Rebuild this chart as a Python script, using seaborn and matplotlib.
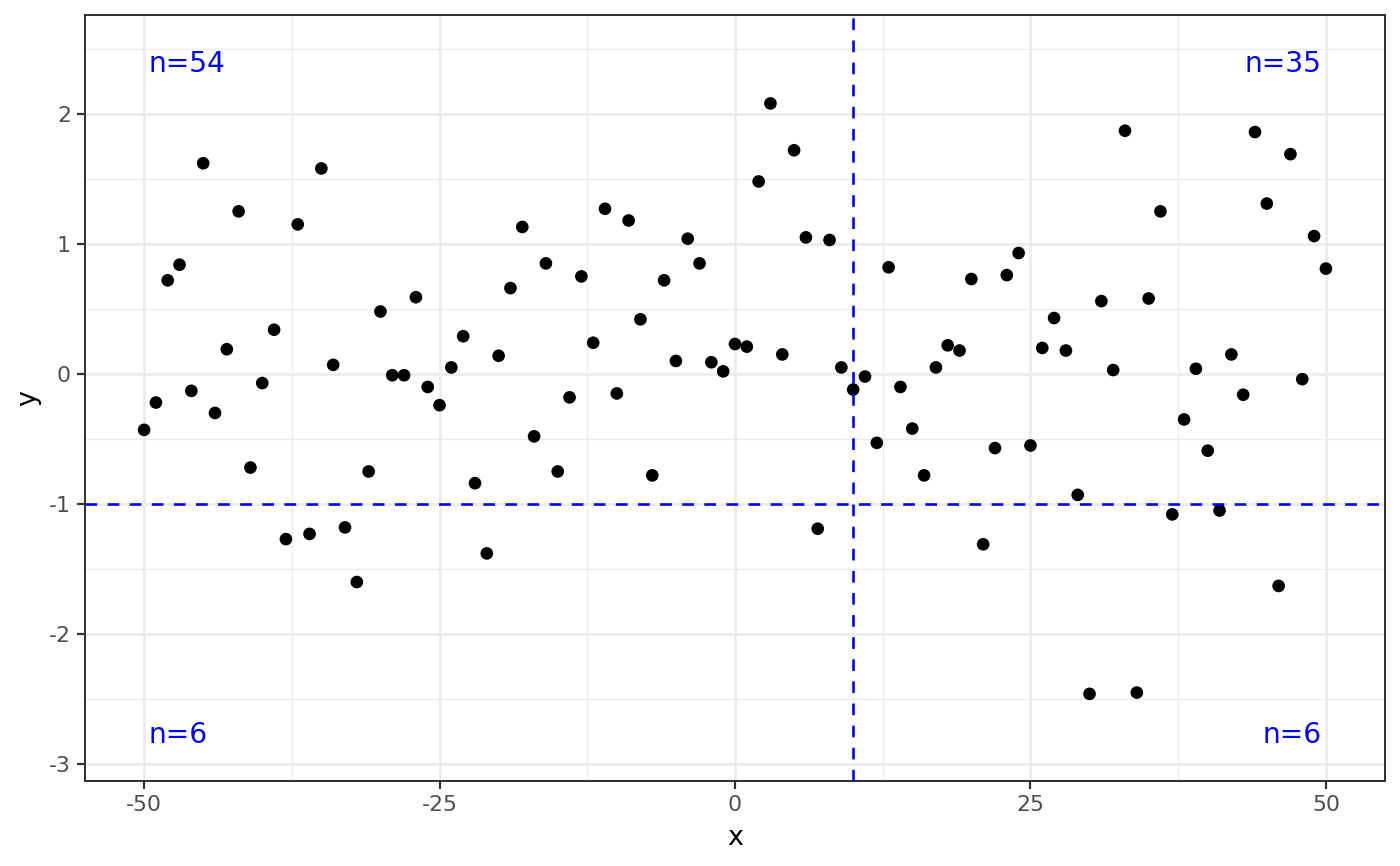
import numpy as np
import pandas as pd
import matplotlib
matplotlib.use("Agg")
import matplotlib.pyplot as plt
import seaborn as sns
from matplotlib.ticker import MultipleLocator

# data
x_vals = list(range(-50, 51))
y_vals = [-0.43, -0.22, 0.72, 0.84, -0.13, 1.62, -0.30, 0.19, 1.25, -0.72,
          -0.07, 0.34, -1.27, 1.15, -1.23, 1.58, 0.07, -1.18, -1.60, -0.75,
          0.48, -0.01, -0.01, 0.59, -0.10, -0.24, 0.05, 0.29, -0.84, -1.38,
          0.14, 0.66, 1.13, -0.48, 0.85, -0.75, -0.18, 0.75, 0.24, 1.27,
          -0.15, 1.18, 0.42, -0.78, 0.72, 0.10, 1.04, 0.85, 0.09, 0.02,
          0.23, 0.21, 1.48, 2.08, 0.15, 1.72, 1.05, -1.19, 1.03, 0.05,
          -0.12, -0.02, -0.53, 0.82, -0.10, -0.42, -0.78, 0.05, 0.22, 0.18,
          0.73, -1.31, -0.57, 0.76, 0.93, -0.55, 0.20, 0.43, 0.18, -0.93,
          -2.46, 0.56, 0.03, 1.87, -2.45, 0.58, 1.25, -1.08, -0.35, 0.04,
          -0.59, -1.05, 0.15, -0.16, 1.86, 1.31, -1.63, 1.69, -0.04, 1.06,
          0.81]
x_cut = 10
y_cut = -1

df = pd.DataFrame({"x": x_vals, "y": y_vals})

# quadrant counts
left = df["x"] < x_cut
top = df["y"] >= y_cut
n_tl = int((left & top).sum())
n_tr = int((~left & top).sum())
n_bl = int((left & ~top).sum())
n_br = int((~left & ~top).sum())

sns.set_theme(style="white")
plt.rcParams["font.family"] = ["DejaVu Sans"]
plt.rcParams["axes.unicode_minus"] = False

fig, ax = plt.subplots(figsize=(1400 / 144, 866 / 144), dpi=144)
fig.subplots_adjust(left=85 / 1400, right=1385 / 1400, top=1 - 15 / 866, bottom=1 - 781 / 866)

sns.scatterplot(data=df, x="x", y="y", color="black", s=40, edgecolor="none", ax=ax, zorder=3)

ax.axvline(x_cut, color="blue", lw=1.3, linestyle=(0, (4.5, 4)), zorder=4)
ax.axhline(y_cut, color="blue", lw=1.3, linestyle=(0, (4.5, 4)), zorder=4)

ax.set_xlim(-55, 55)
ax.set_ylim(-3.13, 2.76)

ax.text(-49.6, 2.38, f"n={n_tl}", color="blue", fontsize=14, ha="left", va="center")
ax.text(49.6, 2.38, f"n={n_tr}", color="blue", fontsize=14, ha="right", va="center")
ax.text(-49.6, -2.78, f"n={n_bl}", color="blue", fontsize=14, ha="left", va="center")
ax.text(49.6, -2.78, f"n={n_br}", color="blue", fontsize=14, ha="right", va="center")

# ggplot theme_bw look
ax.xaxis.set_major_locator(MultipleLocator(25))
ax.xaxis.set_minor_locator(MultipleLocator(12.5))
ax.yaxis.set_major_locator(MultipleLocator(1))
ax.yaxis.set_minor_locator(MultipleLocator(0.5))
ax.grid(which="major", color="#EBEBEB", lw=1.3)
ax.grid(which="minor", color="#EBEBEB", lw=0.65)
ax.set_axisbelow(True)
for sp in ax.spines.values():
    sp.set_color("#333333")
    sp.set_linewidth(1.0)
ax.tick_params(which="major", direction="out", length=4, width=1.1, color="#333333",
               labelsize=11, labelcolor="#4D4D4D", bottom=True, left=True, pad=3)
ax.tick_params(which="minor", length=0)
ax.set_xlabel("x", fontsize=13.5, color="black", labelpad=5)
ax.set_ylabel("y", fontsize=13.5, color="black", labelpad=4)

fig.savefig("out.png", dpi=144)
